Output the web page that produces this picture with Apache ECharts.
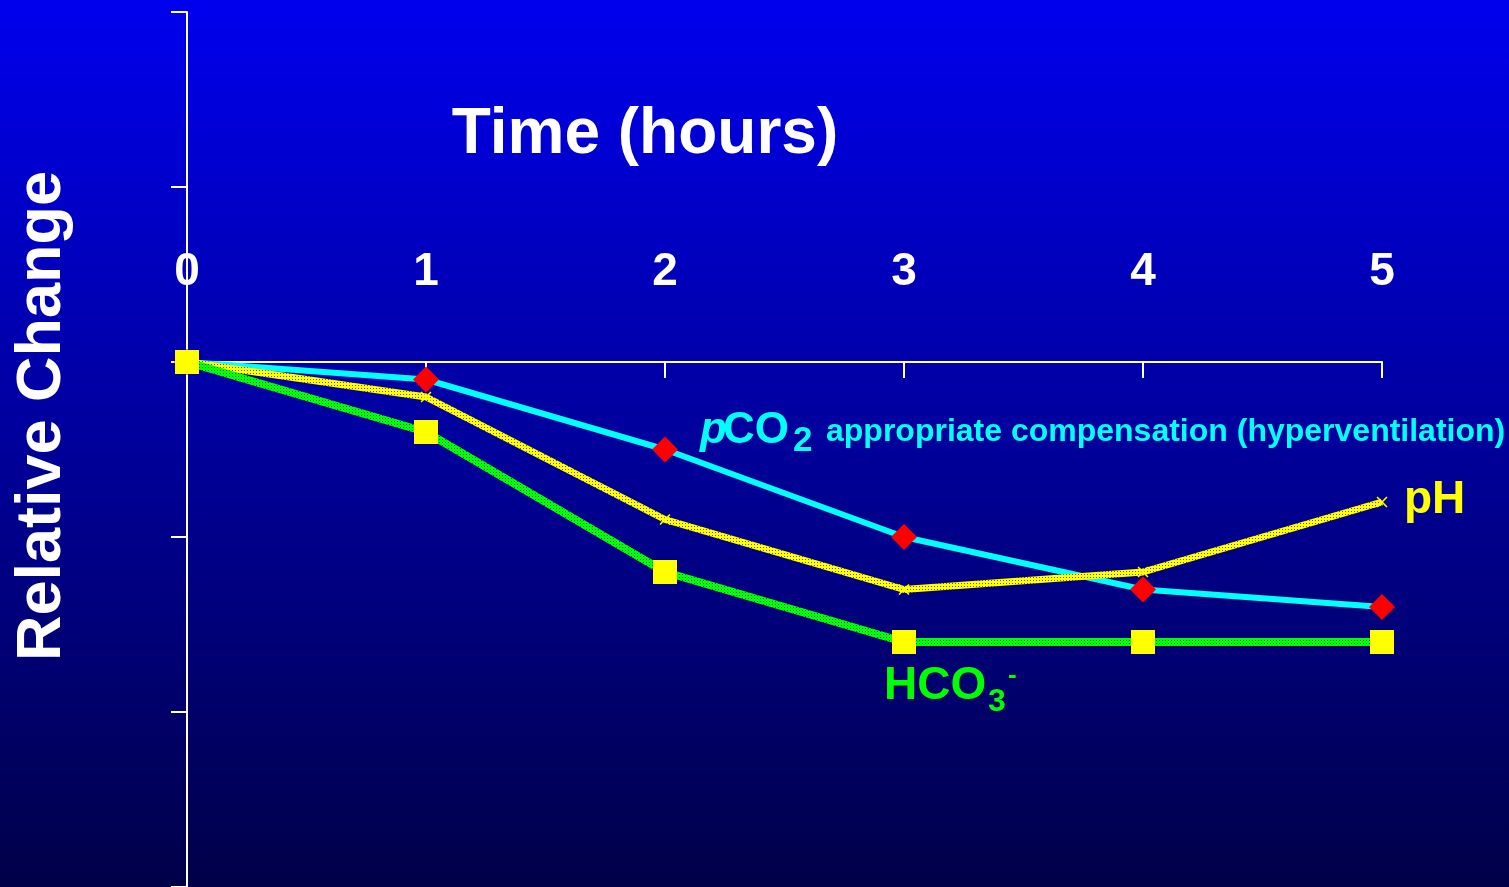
<!DOCTYPE html>
<html>
<head>
<meta charset="utf-8">
<script src="https://cdn.jsdelivr.net/npm/echarts@6/dist/echarts.min.js"></script>
<style>
  html, body { margin: 0; padding: 0; background: #00007a; }
  #chart { width: 1509px; height: 887px; }
</style>
</head>
<body>
<div id="chart"></div>
<script>
// Hours after onset and the relative change of each variable
const hours = [0, 1, 2, 3, 4, 5];
const hourLabels = ['0', '1', '2', '3', '4', '5'];
const pco2 = [0, -0.1, -0.5, -1.0, -1.3, -1.4];
const ph = [0, -0.2, -0.9, -1.3, -1.2, -0.8];
const hco3 = [0, -0.4, -1.2, -1.6, -1.6, -1.6];

const FONT = '"Liberation Sans", Arial, Helvetica, sans-serif';
const Y_MIN = -3, Y_MAX = 2;
const GRID_TOP = 12, GRID_BOTTOM = 0, CHART_H = 887;

// small checkered tile used as the stroke texture of the pH and HCO3 lines
function checker(base, hole) {
  const c = document.createElement('canvas');
  c.width = 3; c.height = 3;
  const g = c.getContext('2d');
  g.fillStyle = base; g.fillRect(0, 0, 3, 3);
  g.fillStyle = hole; g.fillRect(1, 1, 1, 1);
  return { image: c, repeat: 'repeat' };
}

const pairs = vals => hours.map((h, i) => [h, vals[i]]);
const crossPath = 'path://M0,1L1,0L5,4L9,0L10,1L6,5L10,9L9,10L5,6L1,10L0,9L4,5Z';

// the time axis sits on the zero line, with its labels above it
const plotH = CHART_H - GRID_TOP - GRID_BOTTOM;
const zeroOffset = plotH * (Y_MAX - 0) / (Y_MAX - Y_MIN);

const chart = echarts.init(document.getElementById('chart'), null, { renderer: 'canvas' });

chart.setOption({
  animation: false,
  backgroundColor: {
    type: 'linear', x: 0, y: 0, x2: 0, y2: 1,
    colorStops: [
      { offset: 0, color: '#0000ee' },
      { offset: 1, color: '#000048' }
    ]
  },
  grid: {
    left: 187, right: 127, top: GRID_TOP, bottom: GRID_BOTTOM,
    containLabel: false, outerBoundsMode: 'none'
  },
  xAxis: {
    type: 'value', min: 0, max: 5, interval: 1,
    position: 'top',
    offset: -zeroOffset,
    axisLine: { onZero: false, lineStyle: { color: '#ffffff', width: 2 } },
    axisTick: { show: true, inside: true, length: 16, lineStyle: { color: '#ffffff', width: 2 } },
    axisLabel: {
      margin: 67, color: '#ffffff', fontFamily: FONT, fontWeight: 'bold', fontSize: 46,
      formatter: v => hourLabels[hours.indexOf(v)] ?? ''
    },
    splitLine: { show: false }
  },
  yAxis: {
    type: 'value', min: Y_MIN, max: Y_MAX, interval: 1,
    axisLine: { show: true, onZero: false, lineStyle: { color: '#ffffff', width: 2 } },
    axisTick: { show: true, length: 16, lineStyle: { color: '#ffffff', width: 2 } },
    axisLabel: { show: false },
    splitLine: { show: false }
  },
  series: [
    {
      name: 'pCO2', type: 'line', data: pairs(pco2),
      lineStyle: { color: '#00ffff', width: 6 },
      symbol: 'diamond', symbolSize: 26,
      itemStyle: { color: '#ff0000' },
      z: 2
    },
    {
      name: 'pH', type: 'line', data: pairs(ph),
      lineStyle: { color: checker('#ffff00', '#5a5a3c'), width: 7 },
      symbol: crossPath, symbolSize: 11,
      itemStyle: { color: '#ffff00' },
      z: 3
    },
    {
      name: 'HCO3', type: 'line', data: pairs(hco3),
      lineStyle: { color: checker('#00ff00', '#08602c'), width: 8 },
      symbol: 'rect', symbolSize: 24,
      itemStyle: { color: '#ffff00' },
      z: 4
    }
  ],
  graphic: [
    {
      type: 'text', x: 645, y: 135,
      style: { text: 'Time (hours)', fill: '#ffffff', font: 'bold 64px ' + FONT, align: 'center', verticalAlign: 'middle' }
    },
    {
      type: 'text', x: 43, y: 416, rotation: Math.PI / 2,
      style: { text: 'Relative Change', fill: '#ffffff', font: 'bold 63px ' + FONT, align: 'center', verticalAlign: 'middle' }
    },
    {
      type: 'text', x: 700, y: 431,
      style: { text: 'p', fill: '#00ffff', font: 'italic bold 44px ' + FONT, align: 'left', verticalAlign: 'middle' }
    },
    {
      type: 'text', x: 723, y: 431,
      style: { text: 'CO', fill: '#00ffff', font: 'bold 44px ' + FONT, align: 'left', verticalAlign: 'middle' }
    },
    {
      type: 'text', x: 793, y: 441,
      style: { text: '2', fill: '#00ffff', font: 'bold 35px ' + FONT, align: 'left', verticalAlign: 'middle' }
    },
    {
      type: 'text', x: 826, y: 432,
      style: { text: 'appropriate compensation (hyperventilation)', fill: '#00ffff', font: 'bold 32px ' + FONT, align: 'left', verticalAlign: 'middle' }
    },
    {
      type: 'text', x: 1404, y: 500,
      style: { text: 'pH', fill: '#ffff00', font: 'bold 46px ' + FONT, align: 'left', verticalAlign: 'middle' }
    },
    {
      type: 'text', x: 884, y: 686,
      style: { text: 'HCO', fill: '#00ff00', font: 'bold 46px ' + FONT, align: 'left', verticalAlign: 'middle' }
    },
    {
      type: 'text', x: 988, y: 702,
      style: { text: '3', fill: '#00ff00', font: 'bold 32px ' + FONT, align: 'left', verticalAlign: 'middle' }
    },
    {
      type: 'text', x: 1008, y: 676,
      style: { text: '-', fill: '#00ff00', font: 'bold 26px ' + FONT, align: 'left', verticalAlign: 'middle' }
    }
  ]
});
</script>
</body>
</html>
